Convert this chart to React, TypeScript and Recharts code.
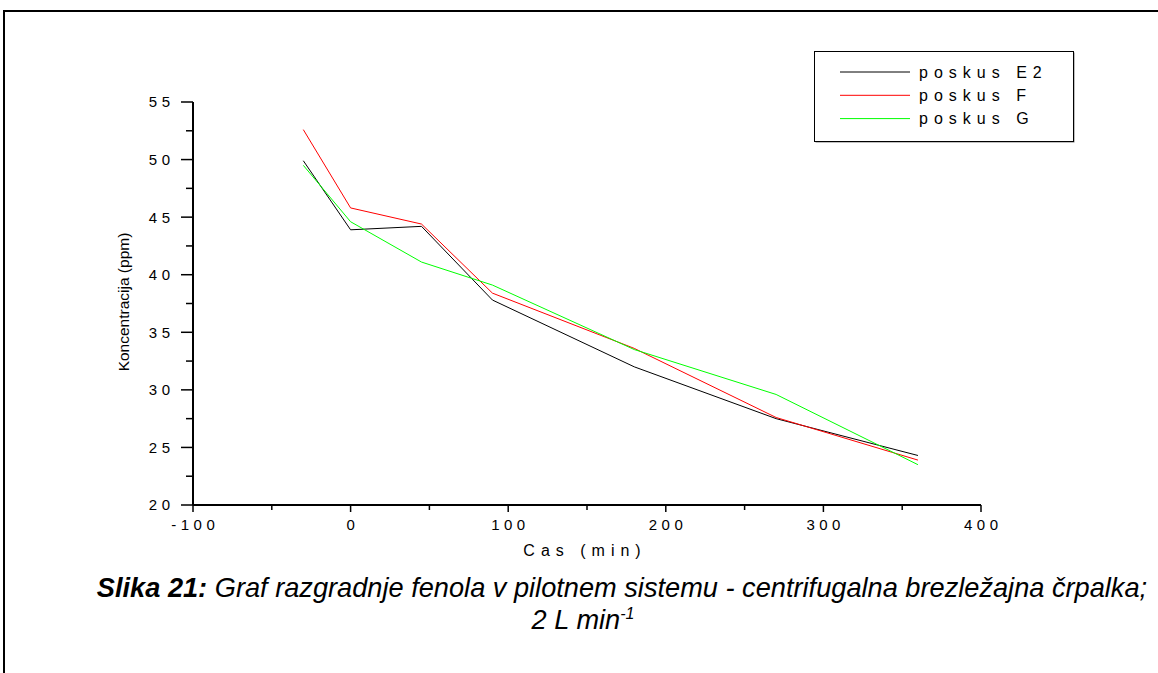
import React from 'react';
import { LineChart, Line, XAxis, YAxis, Legend } from 'recharts';

const times = [-30, 0, 45, 90, 180, 270, 360];
const poskusE2 = [49.9, 43.9, 44.2, 37.8, 32.0, 27.5, 24.3];
const poskusF = [52.6, 45.8, 44.4, 38.4, 33.6, 27.6, 23.9];
const poskusG = [49.5, 44.6, 41.1, 39.1, 33.5, 29.6, 23.5];

const xTicks = [-100, -50, 0, 50, 100, 150, 200, 250, 300, 350, 400];
const yTicks = [20, 22.5, 25, 27.5, 30, 32.5, 35, 37.5, 40, 42.5, 45, 47.5, 50, 52.5, 55];

const seriesNames = ['poskus E2', 'poskus F', 'poskus G'];
const seriesColors = ['#000000', '#ff0000', '#00ff00'];

const data = times.map((t, i) => ({
  t,
  e2: poskusE2[i],
  f: poskusF[i],
  g: poskusG[i],
}));

const FONT = 'Arial, "Liberation Sans", Helvetica, sans-serif';
const TICK_LS = 4.5;
const TICK_FS = 15;

const YTick = (props: any) => {
  const { x, y, payload } = props;
  const v = payload.value;
  const major = v % 5 === 0;
  return (
    <g>
      <line x1={x - (major ? 12 : 7)} x2={x} y1={y} y2={y} stroke="#000" strokeWidth={1.5} />
      {major && (
        <text
          x={x - 23 + TICK_LS}
          y={y}
          dy="0.36em"
          textAnchor="end"
          fontSize={TICK_FS}
          fontFamily={FONT}
          fill="#000"
          style={{ letterSpacing: TICK_LS }}
        >
          {v}
        </text>
      )}
    </g>
  );
};

const XTick = (props: any) => {
  const { x, y, payload } = props;
  const v = payload.value;
  const major = v % 100 === 0;
  return (
    <g>
      <line x1={x} x2={x} y1={y} y2={y + (major ? 7 : 5)} stroke="#000" strokeWidth={1.5} />
      {major && (
        <text
          x={x + TICK_LS / 2}
          y={y + 25}
          textAnchor="middle"
          fontSize={TICK_FS}
          fontFamily={FONT}
          fill="#000"
          style={{ letterSpacing: TICK_LS }}
        >
          {v}
        </text>
      )}
    </g>
  );
};

const LegendBox = () => (
  <svg width={262} height={93} style={{ display: 'block' }}>
    <rect x={1.5} y={1.5} width={259} height={90} fill="#808080" />
    <rect x={0.5} y={0.5} width={259} height={90} fill="#fff" stroke="#000" strokeWidth={1} />
    {seriesNames.map((n, i) => {
      const ly = 21 + i * 23.3;
      return (
        <g key={n}>
          <line x1={26} x2={96} y1={ly} y2={ly} stroke={seriesColors[i]} strokeWidth={1} />
          <text
            x={105}
            y={ly + 5.5}
            fontSize={16}
            fontFamily={FONT}
            fill="#000"
            style={{ letterSpacing: 6 }}
          >
            {n}
          </text>
        </g>
      );
    })}
  </svg>
);

export default function App() {
  return (
    <div
      style={{
        position: 'absolute',
        left: 0,
        top: 0,
        width: 1158,
        height: 673,
        background: '#fff',
        overflow: 'hidden',
        fontFamily: FONT,
      }}
    >
      <div
        style={{
          position: 'absolute',
          left: 3,
          top: 10,
          width: 1160,
          height: 670,
          borderTop: '2px solid #000',
          borderLeft: '2px solid #000',
        }}
      />
      <LineChart
        width={1158}
        height={673}
        data={data}
        margin={{ top: 102, right: 177, bottom: 128, left: 133 }}
        style={{ position: 'absolute', left: 0, top: 0 }}
      >
        <XAxis
          dataKey="t"
          type="number"
          domain={[-100, 400]}
          ticks={xTicks}
          interval={0}
          height={40}
          tickSize={0}
          tickMargin={0}
          tickLine={false}
          tick={<XTick />}
          axisLine={{ stroke: '#000', strokeWidth: 2 }}
          allowDataOverflow
        />
        <YAxis
          type="number"
          domain={[20, 55]}
          ticks={yTicks}
          interval={0}
          width={60}
          tickSize={0}
          tickMargin={0}
          tickLine={false}
          tick={<YTick />}
          axisLine={{ stroke: '#000', strokeWidth: 2 }}
          allowDataOverflow
        />
        <Legend
          layout="vertical"
          align="center"
          verticalAlign="middle"
          content={<LegendBox />}
          wrapperStyle={{ position: 'absolute', left: 814, top: 51, width: 262, height: 93 }}
        />
        <Line type="linear" dataKey="e2" name={seriesNames[0]} stroke={seriesColors[0]} strokeWidth={1} dot={false} isAnimationActive={false} />
        <Line type="linear" dataKey="f" name={seriesNames[1]} stroke={seriesColors[1]} strokeWidth={1} dot={false} isAnimationActive={false} />
        <Line type="linear" dataKey="g" name={seriesNames[2]} stroke={seriesColors[2]} strokeWidth={1} dot={false} isAnimationActive={false} />
      </LineChart>
      <div
        style={{
          position: 'absolute',
          left: 109,
          top: 287,
          width: 30,
          height: 30,
          display: 'flex',
          alignItems: 'center',
          justifyContent: 'center',
        }}
      >
        <div
          style={{
            transform: 'rotate(-90deg)',
            whiteSpace: 'nowrap',
            fontSize: 15.5,
            fontFamily: FONT,
            color: '#000',
          }}
        >
          Koncentracija (ppm)
        </div>
      </div>
      <div
        style={{
          position: 'absolute',
          left: 0,
          top: 542,
          width: 1158 + 12,
          textAlign: 'center',
          fontSize: 16,
          letterSpacing: 6,
          fontFamily: FONT,
          color: '#000',
        }}
      >
        Cas (min)
      </div>
      <div
        style={{
          position: 'absolute',
          left: 0,
          top: 572,
          width: 1158,
          fontSize: 27.2,
          lineHeight: '32px',
          fontStyle: 'italic',
          fontFamily: FONT,
          color: '#000',
          whiteSpace: 'nowrap',
        }}
      >
        <div style={{ position: 'absolute', left: 0, top: 0, width: 1158 + 86, textAlign: 'center' }}>
          <b>Slika 21:</b> Graf razgradnje fenola v pilotnem sistemu - centrifugalna brezležajna črpalka;
        </div>
        <div style={{ position: 'absolute', left: 0, top: 32, width: 1158 + 8, textAlign: 'center' }}>
          2 L min<sup style={{ fontSize: 16, verticalAlign: 'super', lineHeight: 0 }}>-1</sup>
        </div>
      </div>
    </div>
  );
}
